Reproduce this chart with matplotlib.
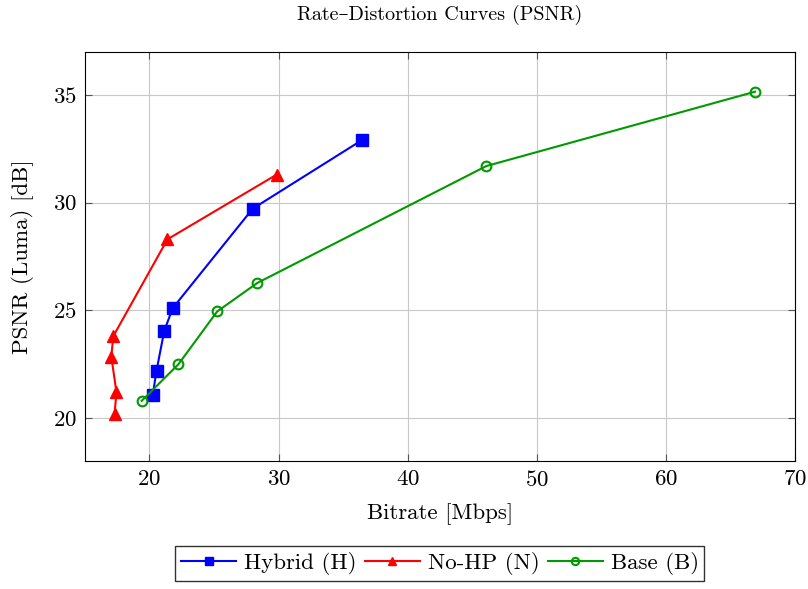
import numpy as np
import matplotlib.pyplot as plt

plt.rcParams['font.family'] = ['cmr10', 'DejaVu Serif']
plt.rcParams['mathtext.fontset'] = 'cm'
plt.rcParams['axes.formatter.use_mathtext'] = True

# Rate-distortion points (bitrate in Mbps, PSNR in dB)
hybrid_rate = [20.25, 20.55, 21.15, 21.8, 28.0, 36.45]
hybrid_psnr = [21.05, 22.2, 24.05, 25.1, 29.72, 32.9]

nohp_rate = [17.3, 17.45, 17.05, 17.2, 21.4, 29.85]
nohp_psnr = [20.2, 21.2, 22.85, 23.8, 28.3, 31.3]

base_rate = [19.4, 22.25, 25.25, 28.35, 46.1, 66.9]
base_psnr = [20.8, 22.5, 24.95, 26.27, 31.7, 35.15]

fig = plt.figure(figsize=(8.08, 5.89), dpi=100)
ax = fig.add_axes([0.105, 0.217, 0.879, 0.695])

ax.plot(hybrid_rate, hybrid_psnr, color='blue', marker='s', markersize=8,
        linewidth=1.5, label='Hybrid (H)')
ax.plot(nohp_rate, nohp_psnr, color='red', marker='^', markersize=8,
        linewidth=1.5, label='No-HP (N)')
ax.plot(base_rate, base_psnr, color='#009900', marker='o', markersize=7,
        markerfacecolor='none', markeredgewidth=1.5, linewidth=1.5,
        label='Base (B)')

ax.set_xlim(15, 70)
ax.set_ylim(18, 37)
ax.set_xticks([20, 30, 40, 50, 60, 70])
ax.set_yticks([20, 25, 30, 35])
ax.grid(True, color='#c8c8c8', linewidth=0.8)
ax.set_axisbelow(True)
ax.tick_params(direction='in', top=True, right=True, labelsize=16.5,
               color='#555555', length=5, pad=6)

ax.set_xlabel('Bitrate [Mbps]', fontsize=16.5, labelpad=10)
ax.set_ylabel('PSNR (Luma) [dB]', fontsize=16.5, labelpad=13)
ax.set_title('Rate\u2013Distortion Curves (PSNR)', fontsize=14.5, pad=23)

ax.legend(loc='upper center', bbox_to_anchor=(0.5, -0.18), ncol=3,
          fontsize=16.5, frameon=True, fancybox=False, edgecolor='black',
          handlelength=2.4, handletextpad=0.35, columnspacing=0.35,
          borderpad=0.25, markerscale=0.75)

fig.savefig('out.png', dpi=100)
